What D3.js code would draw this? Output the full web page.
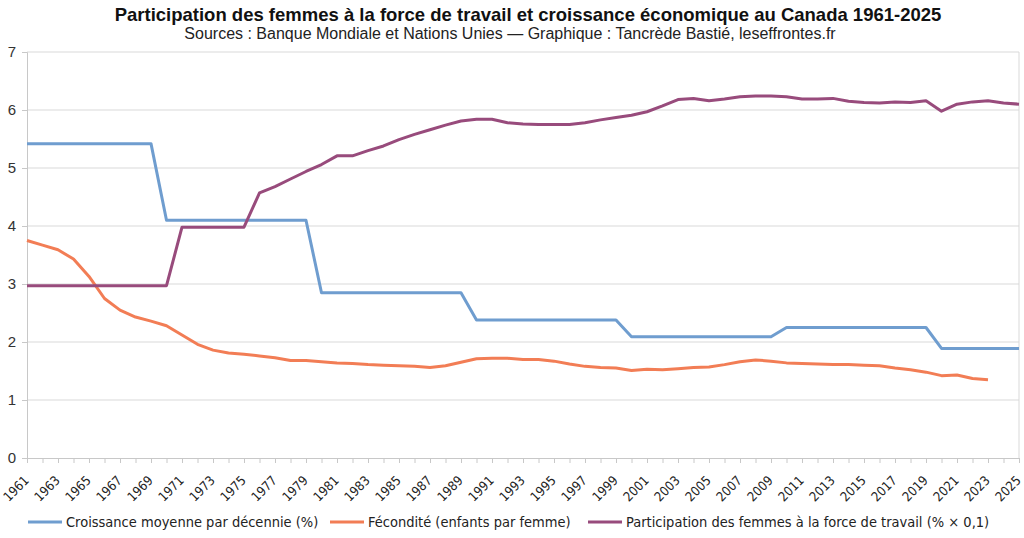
<!DOCTYPE html>
<html><head><meta charset="utf-8">
<script src="https://cdn.jsdelivr.net/npm/d3@7"></script>
<style>body{margin:0;background:#fff}svg{display:block}</style>
</head><body>
<svg id="c" width="1024" height="538"></svg>
<script>
const years = d3.range(1961, 2026);
const yTicks = [0,1,2,3,4,5,6,7];
const seriesNames = ["Croissance moyenne par décennie (%)", "Fécondité (enfants par femme)", "Participation des femmes à la force de travail (% × 0,1)"];
const growth = [
 5.42,5.42,5.42,5.42,5.42,5.42,5.42,5.42,5.42,
 4.10,4.10,4.10,4.10,4.10,4.10,4.10,4.10,4.10,4.10,
 2.85,2.85,2.85,2.85,2.85,2.85,2.85,2.85,2.85,2.85,
 2.38,2.38,2.38,2.38,2.38,2.38,2.38,2.38,2.38,2.38,
 2.09,2.09,2.09,2.09,2.09,2.09,2.09,2.09,2.09,2.09,
 2.25,2.25,2.25,2.25,2.25,2.25,2.25,2.25,2.25,2.25,
 1.89,1.89,1.89,1.89,1.89,1.89
];
const fertility = [
 3.75,3.67,3.59,3.43,3.13,2.75,2.55,2.43,2.36,2.28,
 2.12,1.96,1.86,1.81,1.79,1.76,1.73,1.68,1.68,1.66,
 1.64,1.63,1.61,1.60,1.59,1.58,1.56,1.59,1.65,1.71,
 1.72,1.72,1.70,1.70,1.67,1.62,1.58,1.56,1.55,1.51,
 1.53,1.52,1.54,1.56,1.57,1.61,1.66,1.69,1.67,1.64,
 1.63,1.62,1.61,1.61,1.60,1.59,1.55,1.52,1.48,1.42,
 1.43,1.37,1.35
];
const participation = [
 2.97,2.97,2.97,2.97,2.97,2.97,2.97,2.97,2.97,2.97,
 3.98,3.98,3.98,3.98,3.98,4.57,4.68,4.81,4.94,5.06,
 5.21,5.21,5.30,5.38,5.49,5.58,5.66,5.74,5.81,5.84,
 5.84,5.78,5.76,5.75,5.75,5.75,5.78,5.83,5.87,5.91,
 5.97,6.07,6.18,6.20,6.16,6.19,6.23,6.24,6.24,6.23,
 6.19,6.19,6.20,6.15,6.13,6.12,6.14,6.13,6.16,5.98,
 6.10,6.14,6.16,6.12,6.10
];
const colors = ["#6f9dcf", "#f27d55", "#984b7c"];

const svg = d3.select("#c");
const L = 27, R = 1019, T = 52, B = 458;
const x = d3.scaleLinear().domain([1961, 2025]).range([L, R]);
const y = d3.scaleLinear().domain([0, 7]).range([B, T]);

svg.append("text").attr("x", 528).attr("y", 21).attr("text-anchor","middle")
  .style("font-family","'Liberation Sans Narrow','Arial Narrow',sans-serif").style("font-weight","bold")
  .style("font-size","18.5px").attr("fill","#111")
  .text("Participation des femmes à la force de travail et croissance économique au Canada 1961-2025");
svg.append("text").attr("x", 510).attr("y", 39).attr("text-anchor","middle")
  .style("font-family","'Liberation Sans Narrow','Arial Narrow',sans-serif")
  .style("font-size","16px").attr("fill","#222")
  .text("Sources : Banque Mondiale et Nations Unies — Graphique : Tancrède Bastié, leseffrontes.fr");

// grid
svg.append("g").selectAll("line").data(yTicks.filter(d=>d>0)).join("line")
  .attr("x1", L).attr("x2", R).attr("y1", d=>y(d)).attr("y2", d=>y(d))
  .attr("stroke","#d9d9d9").attr("stroke-width",1);
svg.append("line").attr("x1",R).attr("x2",R).attr("y1",T).attr("y2",B).attr("stroke","#d9d9d9");

// y axis
const ya = svg.append("g").attr("transform",`translate(${L},0)`)
  .call(d3.axisLeft(y).tickValues(yTicks).tickFormat(d3.format("d")).tickSize(5).tickPadding(6));
ya.select(".domain").attr("stroke","#c8c8c8");
ya.selectAll(".tick line").attr("stroke","#c8c8c8");
ya.selectAll("text").style("font-family","'Liberation Sans',Arial,sans-serif").style("font-size","15px").attr("fill","#333");

// x axis
const xa = svg.append("g").attr("transform",`translate(0,${B})`)
  .call(d3.axisBottom(x).tickValues(years).tickSize(5).tickFormat(d => (d-1961)%2===0 ? d : ""));
xa.select(".domain").attr("stroke","#c8c8c8");
xa.selectAll(".tick line").attr("stroke","#c8c8c8");
xa.selectAll("text").style("font-family","'DejaVu Sans Condensed','DejaVu Sans',sans-serif").style("font-size","13px").attr("fill","#222")
  .attr("text-anchor","end").attr("x",0).attr("y",0).attr("dy","0.35em")
  .attr("transform","translate(-1,20) rotate(-45)");

// lines
const all = [growth, fertility, participation];
const line = d3.line().x((d,i)=>x(years[i])).y(d=>y(d));
svg.append("g").selectAll("path").data(all).join("path")
  .attr("d", d=>line(d)).attr("fill","none")
  .attr("stroke",(d,i)=>colors[i]).attr("stroke-width",3).attr("stroke-linejoin","round");

// legend
const legX = [28, 330, 588];
const lg = svg.append("g").selectAll("g").data(seriesNames).join("g")
  .attr("transform",(d,i)=>`translate(${legX[i]},522)`);
lg.append("line").attr("x1",0).attr("x2",34).attr("y1",0).attr("y2",0)
  .attr("stroke",(d,i)=>colors[i]).attr("stroke-width",3);
lg.append("text").attr("x",38).attr("y",5).text(d=>d)
  .style("font-family","'DejaVu Sans Condensed','DejaVu Sans',sans-serif").style("font-size","14.5px").attr("fill","#222");
</script>
</body></html>
